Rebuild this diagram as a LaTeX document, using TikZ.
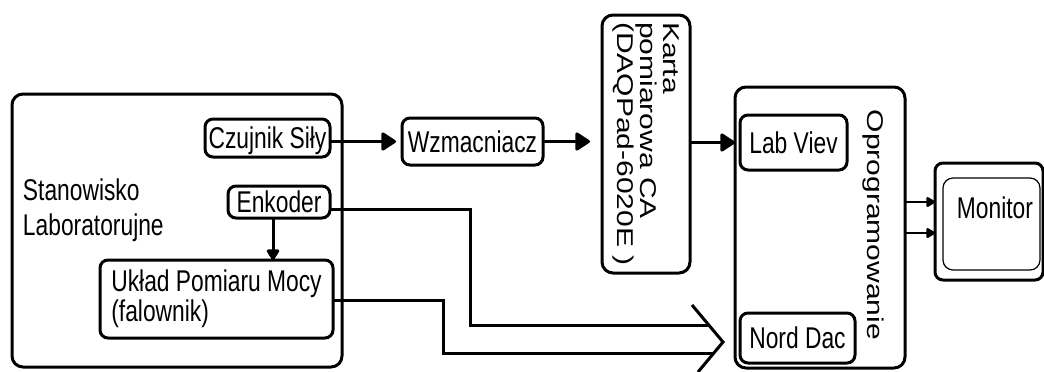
\documentclass[tikz,border=0pt]{standalone}
\usepackage{fontspec}
\setmainfont{Liberation Sans}
\usetikzlibrary{arrows.meta,calc}
\newcommand{\sqz}[1]{\scalebox{0.76}[1]{#1}}
\begin{document}
\begin{tikzpicture}[x=1pt,y=-1pt,
  every node/.style={font=\fontsize{30}{36}\selectfont, inner sep=0pt, outer sep=0pt},
  box/.style={draw, line width=3pt, rounded corners=8pt},
  bigbox/.style={draw, line width=3pt, rounded corners=11pt},
  thinbox/.style={draw, line width=1.2pt, rounded corners=10pt},
  sline/.style={text height=21.5pt, text depth=0pt},
  conn/.style={line width=3pt},
  arr/.style={conn, -{Triangle[length=16pt,width=20pt,round]}},
  arrm/.style={conn, -{Triangle[length=12pt,width=14pt,round]}},
  arrs/.style={line width=2.5pt, -{Triangle[length=10pt,width=11pt,round]}}]
\useasboundingbox (0,0) rectangle (1044,372);

% left station
\node[bigbox, minimum width=330pt, minimum height=273pt] (stan) at (177,230.5) {};
\node[anchor=west] (stantxt) at (23,210.3) {\sqz{\begin{tabular}{@{}l@{}}Stanowisko\\[-1pt]Laboratorujne\end{tabular}}};
\node[box, sline, minimum width=125pt, minimum height=38pt] (czu) at (267.5,138) {\sqz{Czujnik Siły}};
\node[box, sline, minimum width=102pt, minimum height=32pt] (enk) at (279,202) {\sqz{Enkoder}};
\node[box, minimum width=233pt, minimum height=78pt] (ukl) at (216.5,299) {\sqz{\begin{tabular}{@{}l@{}}Układ Pomiaru Mocy\\[-6pt](falownik)\end{tabular}}};

% amplifier and card
\node[box, sline, minimum width=141pt, minimum height=47pt] (wzm) at (472.5,141.5) {\sqz{Wzmacniacz}};
\node[bigbox, minimum width=88pt, minimum height=258pt] (kar) at (646,144) {\sqz{\rotatebox{-90}{\begin{tabular}{@{}l@{}}Karta\\[-6pt]pomiarowa CA\\[-6pt](DAQPad-6020E )\end{tabular}}}};

% software
\node[bigbox, minimum width=170pt, minimum height=281pt] (opr) at (820,227.5) {};
\node (oprtxt) at (873,225) {\sqz{\rotatebox{-90}{Oprogramowanie}}};
\node[box, sline, minimum width=107pt, minimum height=55pt] (lab) at (793.5,142.5) {\sqz{Lab Viev}};
\node[box, sline, minimum width=115pt, minimum height=50pt] (nord) at (797.5,338) {\sqz{Nord Dac}};

% monitor
\node[box, minimum width=108pt, minimum height=117pt] (monout) at (989,221.5) {};
\node[thinbox, minimum width=97pt, minimum height=92pt] (monin) at (991.5,224) {};
\node[sline] (montxt) at (995,208) {\sqz{Monitor}};

% chevron coordinates
\coordinate (armtop) at (692,305);
\coordinate (tip) at (723,342);
\coordinate (armbot) at (698,372);
\coordinate (endA) at (709,325);
\coordinate (endB) at (714,353);

% connectors
\draw[arr, shorten >=6pt] (czu.east |- wzm.west) -- (wzm.west);
\draw[arr, shorten >=12pt] (wzm.east) -- (kar.west |- wzm.east);
\draw[arr] (kar.east |- lab.west) -- (opr.west |- lab.west);
\draw[arrm] ([xshift=-6pt]enk.south) -- ([xshift=-6pt]enk.south |- ukl.north);
\draw[conn] ([yshift=-7pt]enk.east) -- ++(140,0) |- (endA);
\draw[conn] ([yshift=-1pt]ukl.east) -- ++(110,0) |- (endB);
\draw[conn, line join=miter] (armtop) -- (tip) -- (armbot);
\draw[arrs] ([yshift=25.5pt]opr.east) -- ([yshift=25.5pt]opr.east -| monout.west);
\draw[arrs] ([yshift=-5.5pt]opr.east) -- ([yshift=-5.5pt]opr.east -| monout.west);
\end{tikzpicture}
\end{document}
